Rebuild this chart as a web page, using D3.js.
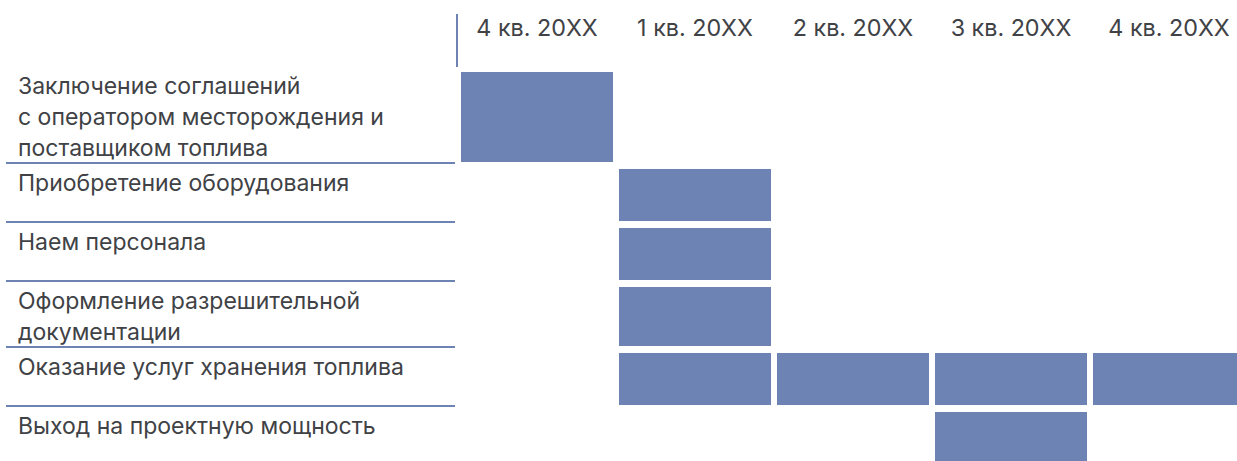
<!DOCTYPE html>
<html lang="ru">
<head>
    <meta charset="UTF-8">
    <title>План-график</title>
    <script src="https://cdnjs.cloudflare.com/ajax/libs/d3/7.8.5/d3.min.js"></script>
    <style>
        body { margin: 0; background: #fff; }
        svg { display: block; }
        text { font-family: Inter, "Open Sans", sans-serif; fill: #404246; }
    </style>
</head>
<body>
<svg id="chart" width="1237" height="461"></svg>
<script>
    const quarters = ["4 кв. 20XX", "1 кв. 20XX", "2 кв. 20XX", "3 кв. 20XX", "4 кв. 20XX"];
    const tasks = [
        ["Заключение соглашений", "с оператором месторождения и", "поставщиком топлива"],
        ["Приобретение оборудования"],
        ["Наем персонала"],
        ["Оформление разрешительной", "документации"],
        ["Оказание услуг хранения топлива"],
        ["Выход на проектную мощность"]
    ];
    const startQ = [0, 1, 1, 1, 1, 3];
    const endQ = [0, 1, 1, 1, 4, 3];

    const color = "#6c83b3";
    const svg = d3.select("#chart");

    const x = d3.scaleBand()
        .domain(d3.range(quarters.length))
        .range([458, 458 + 158 * quarters.length]);

    // row heights follow the number of text lines
    const lineH = 31;
    const rowH = tasks.map(t => Math.max(59, t.length * lineH + 4));
    const rowTop = [];
    let acc = 66;
    rowH.forEach(h => { rowTop.push(acc); acc += h; });

    // header
    svg.append("line")
        .attr("x1", 457).attr("x2", 457)
        .attr("y1", 14).attr("y2", 67)
        .attr("stroke", color).attr("stroke-width", 2);

    svg.selectAll(".qlabel")
        .data(quarters)
        .enter()
        .append("text")
        .attr("class", "qlabel")
        .attr("x", (d, i) => x(i) + x.bandwidth() / 2)
        .attr("y", 36)
        .attr("text-anchor", "middle")
        .attr("font-size", 23.3)
        .text(d => d);

    // rows
    const rows = svg.selectAll(".row")
        .data(tasks)
        .enter()
        .append("g")
        .attr("class", "row")
        .attr("transform", (d, i) => `translate(0,${rowTop[i]})`);

    rows.selectAll("text")
        .data(d => d)
        .enter()
        .append("text")
        .attr("x", 18)
        .attr("y", (d, j) => 28 + j * lineH)
        .attr("font-size", 23)
        .text(d => d);

    rows.filter((d, i) => i < tasks.length - 1)
        .append("line")
        .attr("x1", 6).attr("x2", 455)
        .attr("y1", (d, i) => rowH[i]).attr("y2", (d, i) => rowH[i])
        .attr("stroke", color).attr("stroke-width", 2);

    rows.each(function(d, i) {
        const cells = d3.range(startQ[i], endQ[i] + 1);
        d3.select(this).selectAll("rect")
            .data(cells)
            .enter()
            .append("rect")
            .attr("x", q => x(q) + 3)
            .attr("y", 6)
            .attr("width", x.bandwidth() - 6)
            .attr("height", rowH[i] - 7)
            .attr("fill", color);
    });
</script>
</body>
</html>
